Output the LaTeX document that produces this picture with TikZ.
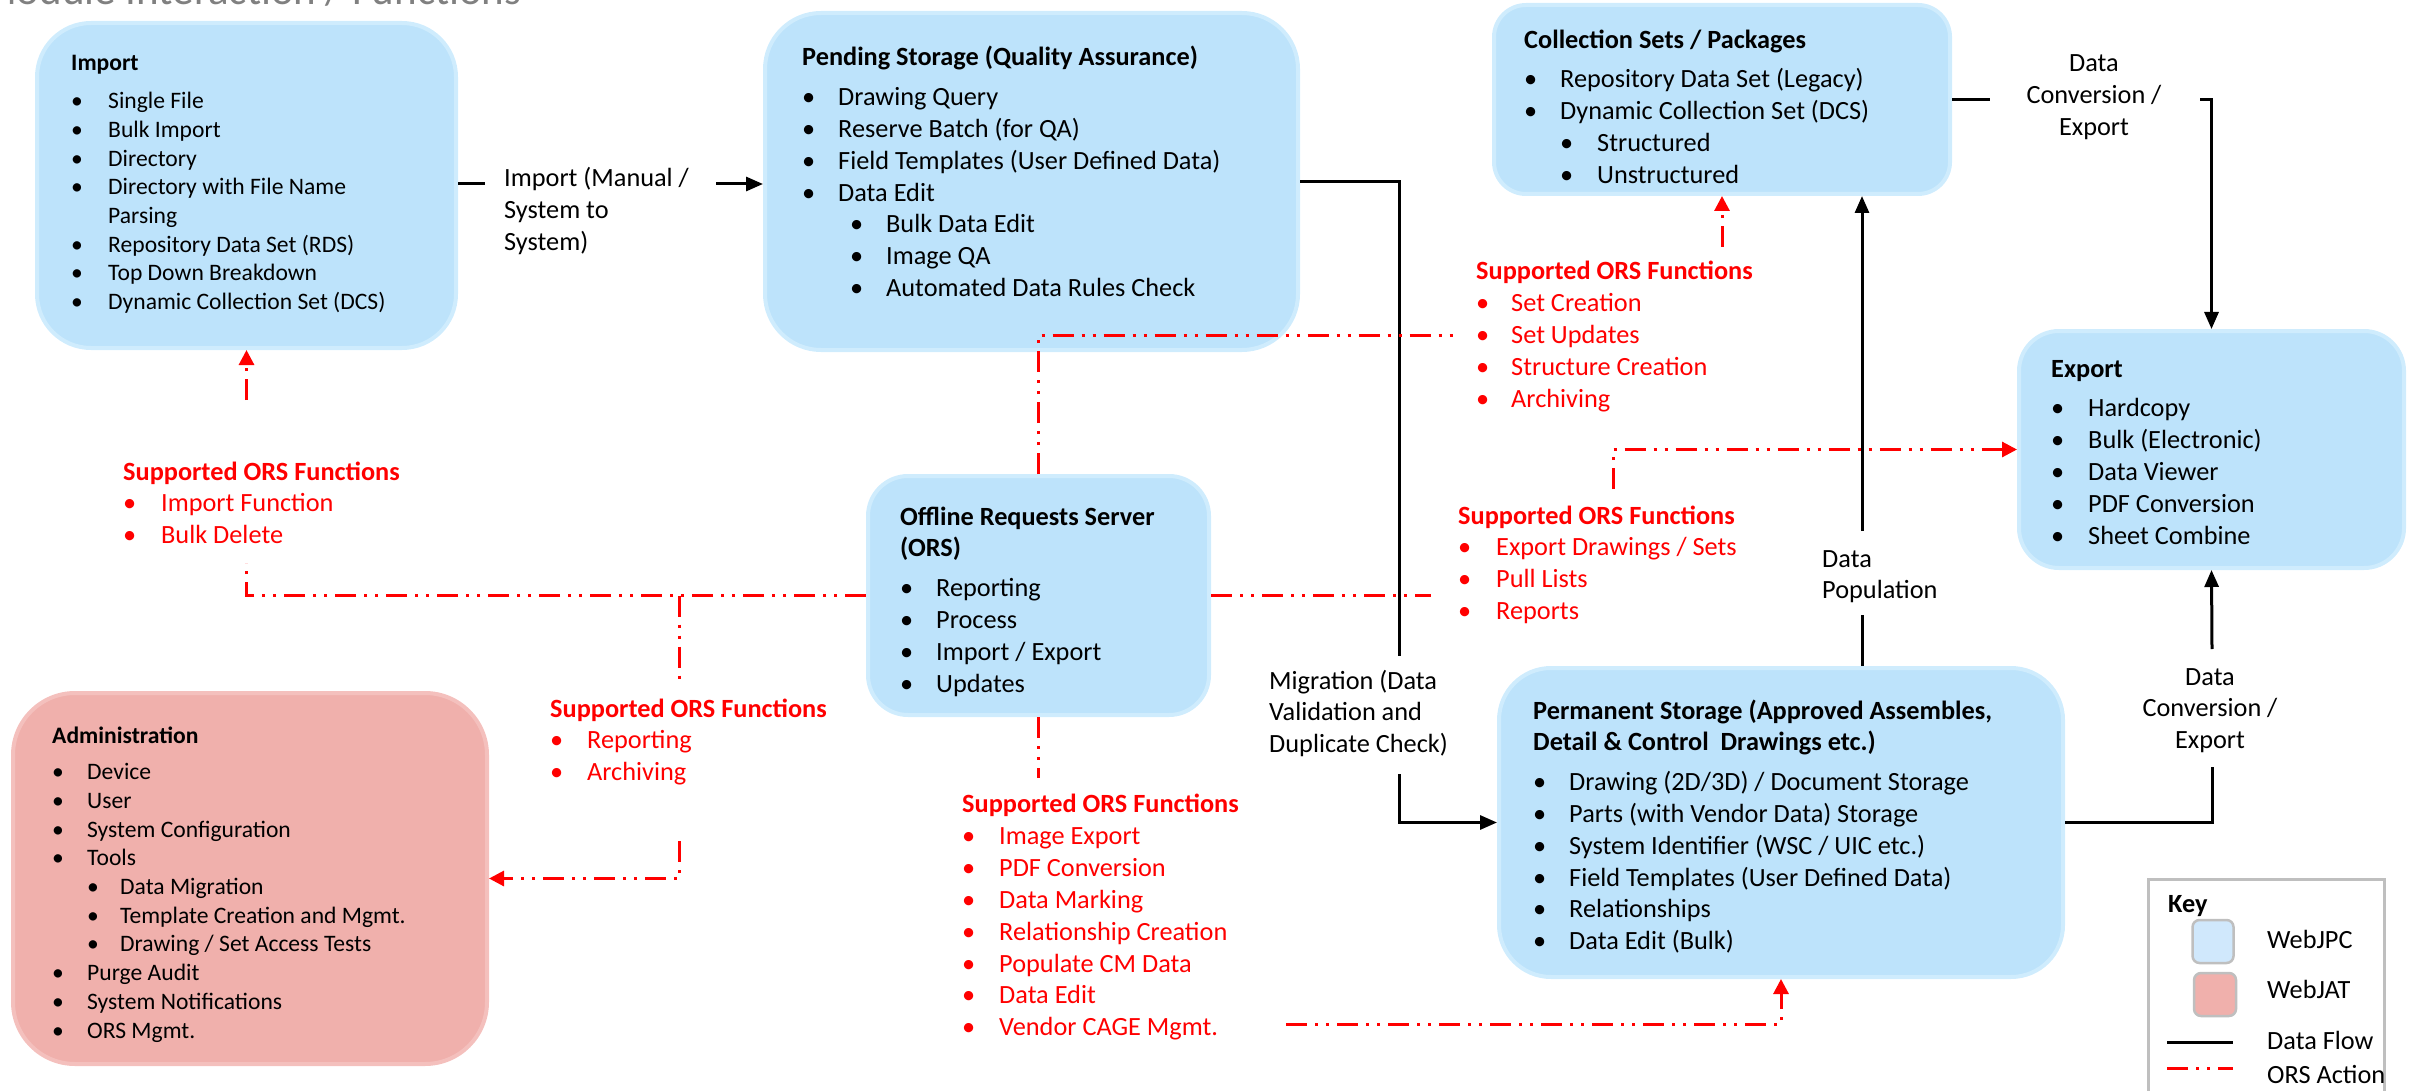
\documentclass[tikz,border=0pt]{standalone}
\usepackage{fontspec}
\setmainfont{Carlito}
\usetikzlibrary{arrows.meta}
\definecolor{boxblue}{RGB}{189,227,251}
\definecolor{boxrim}{RGB}{207,236,253}
\definecolor{boxpink}{RGB}{240,176,172}
\definecolor{pinkrim}{RGB}{244,192,189}
\definecolor{keyblue}{RGB}{208,232,252}
\definecolor{titlegray}{RGB}{128,128,128}
\definecolor{keygray}{RGB}{191,191,191}
\definecolor{orsred}{RGB}{255,0,0}
\newcommand{\fsS}{\fontsize{23.6}{28.7}\selectfont}
\newcommand{\fsB}{\fontsize{26.3}{31.8}\selectfont}
\newcommand{\bu}[1]{\makebox[#1][l]{\textbullet}}
\newcommand{\sbu}[2]{\hspace*{#1}\makebox[#2][l]{\textbullet}}
\begin{document}
\begin{tikzpicture}[x=1pt,y=-1pt,
  wbox/.style={rectangle, inner sep=0pt, fill=boxblue, draw=boxrim, line width=4pt},
  pbox/.style={rectangle, inner sep=0pt, fill=boxpink, draw=pinkrim, line width=4pt},
  txt/.style={anchor=base west, inner sep=0pt},
  redtxt/.style={txt, text=orsred, font=\fsB},
  flow/.style={line width=3pt, black},
  flowarr/.style={flow, -{Triangle[length=17pt,width=14pt]}},
  ors/.style={line width=3pt, orsred, dash pattern=on 21pt off 8pt on 3pt off 8pt on 3pt off 8pt},
  orsarr/.style={ors, -{Triangle[length=15pt,width=15pt]}},
]
\useasboundingbox (0,0) rectangle (2412,1091);

% title
\node[anchor=base west, inner sep=0pt, text=titlegray, font=\fontsize{43}{50}\selectfont] (title) at (-20,5) {Module Interaction / Functions};

% boxes
\node[wbox, minimum width=419pt, minimum height=325pt, rounded corners=54pt] (import) at (246.5,185.5) {};
\node[wbox, minimum width=533pt, minimum height=337pt, rounded corners=56pt] (pending) at (1031.5,181.5) {};
\node[wbox, minimum width=456pt, minimum height=189pt, rounded corners=32pt] (coll) at (1722,99.5) {};
\node[wbox, minimum width=385pt, minimum height=237pt, rounded corners=40pt] (export) at (2211.5,449.5) {};
\node[wbox, minimum width=341pt, minimum height=239pt, rounded corners=40pt] (ors) at (1038.5,595.5) {};
\node[wbox, minimum width=564pt, minimum height=309pt, rounded corners=52pt] (perm) at (1781,822.5) {};
\node[pbox, minimum width=474pt, minimum height=371pt, rounded corners=62pt] (admin) at (250,878.5) {};

% box texts
\node[txt, font=\fsS] (importtxt) at (71,71) {\begin{tabular}[t]{@{}l@{}}
\textbf{Import}\\[9pt]
\bu{37pt}Single File\\
\bu{37pt}Bulk Import\\
\bu{37pt}Directory\\
\bu{37pt}Directory with File Name\\
\hspace*{37pt}Parsing\\
\bu{37pt}Repository Data Set (RDS)\\
\bu{37pt}Top Down Breakdown\\
\bu{37pt}Dynamic Collection Set (DCS)
\end{tabular}};

\node[txt, font=\fsB] (pendingtxt) at (802,66) {\begin{tabular}[t]{@{}l@{}}
\textbf{Pending Storage (Quality Assurance)}\\[8pt]
\bu{36pt}Drawing Query\\
\bu{36pt}Reserve Batch (for QA)\\
\bu{36pt}Field Templates (User Defined Data)\\
\bu{36pt}Data Edit\\
\sbu{48pt}{36pt}Bulk Data Edit\\
\sbu{48pt}{36pt}Image QA\\
\sbu{48pt}{36pt}Automated Data Rules Check
\end{tabular}};

\node[txt, font=\fsB] (colltxt) at (1524,49) {\begin{tabular}[t]{@{}l@{}}
\textbf{Collection Sets / Packages}\\[7pt]
\bu{36pt}Repository Data Set (Legacy)\\
\bu{36pt}Dynamic Collection Set (DCS)\\
\sbu{36pt}{37pt}Structured\\
\sbu{36pt}{37pt}Unstructured
\end{tabular}};

\node[txt, font=\fsB] (exporttxt) at (2051,377) {\begin{tabular}[t]{@{}l@{}}
\textbf{Export}\\[8pt]
\bu{37pt}Hardcopy\\
\bu{37pt}Bulk (Electronic)\\
\bu{37pt}Data Viewer\\
\bu{37pt}PDF Conversion\\
\bu{37pt}Sheet Combine
\end{tabular}};

\node[txt, font=\fsB] (orstxt) at (900,525) {\begin{tabular}[t]{@{}l@{}}
\textbf{Offline Requests Server}\\
\textbf{(ORS)}\\[8pt]
\bu{36pt}Reporting\\
\bu{36pt}Process\\
\bu{36pt}Import / Export\\
\bu{36pt}Updates
\end{tabular}};

\node[txt, font=\fsB] (permtxt) at (1533,719) {\begin{tabular}[t]{@{}l@{}}
\textbf{Permanent Storage (Approved Assembles,}\\
\textbf{Detail \& Control\ \ Drawings etc.)}\\[8pt]
\bu{36pt}Drawing (2D/3D) / Document Storage\\
\bu{36pt}Parts (with Vendor Data) Storage\\
\bu{36pt}System Identifier (WSC / UIC etc.)\\
\bu{36pt}Field Templates (User Defined Data)\\
\bu{36pt}Relationships\\
\bu{36pt}Data Edit (Bulk)
\end{tabular}};

\node[txt, font=\fsS] (admintxt) at (52,743) {\begin{tabular}[t]{@{}l@{}}
\textbf{Administration}\\[8pt]
\bu{35pt}Device\\
\bu{35pt}User\\
\bu{35pt}System Configuration\\
\bu{35pt}Tools\\
\sbu{35pt}{33pt}Data Migration\\
\sbu{35pt}{33pt}Template Creation and Mgmt.\\
\sbu{35pt}{33pt}Drawing / Set Access Tests\\
\bu{35pt}Purge Audit\\
\bu{35pt}System Notifications\\
\bu{35pt}ORS Mgmt.
\end{tabular}};

% red function blocks
\node[redtxt] (redA) at (123,480) {\begin{tabular}[t]{@{}l@{}}
\textbf{Supported ORS Functions}\\
\bu{38pt}Import Function\\
\bu{38pt}Bulk Delete
\end{tabular}};
\node[redtxt] (redB) at (550,717) {\begin{tabular}[t]{@{}l@{}}
\textbf{Supported ORS Functions}\\
\bu{37pt}Reporting\\
\bu{37pt}Archiving
\end{tabular}};
\node[redtxt] (redC) at (962,812) {\begin{tabular}[t]{@{}l@{}}
\textbf{Supported ORS Functions}\\[1pt]
\bu{37pt}Image Export\\
\bu{37pt}PDF Conversion\\
\bu{37pt}Data Marking\\
\bu{37pt}Relationship Creation\\
\bu{37pt}Populate CM Data\\
\bu{37pt}Data Edit\\
\bu{37pt}Vendor CAGE Mgmt.
\end{tabular}};
\node[redtxt] (redD) at (1476,280) {\begin{tabular}[t]{@{}l@{}}
\textbf{Supported ORS Functions}\\
\bu{35pt}Set Creation\\
\bu{35pt}Set Updates\\
\bu{35pt}Structure Creation\\
\bu{35pt}Archiving
\end{tabular}};
\node[redtxt] (redE) at (1458,524) {\begin{tabular}[t]{@{}l@{}}
\textbf{Supported ORS Functions}\\
\bu{38pt}Export Drawings / Sets\\
\bu{38pt}Pull Lists\\
\bu{38pt}Reports
\end{tabular}};

% connector labels
\node[txt, font=\fsB] (lblimport) at (504,187) {\begin{tabular}[t]{@{}l@{}}Import (Manual /\\System to\\System)\end{tabular}};
\node[anchor=base, inner sep=0pt, font=\fsB] (lblconv1) at (2094,72) {\begin{tabular}[t]{@{}c@{}}Data\\Conversion /\\Export\end{tabular}};
\node[txt, font=\fsB] (lblmig) at (1269,689) {\begin{tabular}[t]{@{}l@{}}Migration (Data\\Validation and\\Duplicate Check)\end{tabular}};
\node[txt, font=\fsB] (lblpop) at (1822,567) {\begin{tabular}[t]{@{}l@{}}Data\\Population\end{tabular}};
\node[anchor=base, inner sep=0pt, font=\fsB] (lblconv2) at (2210,685) {\begin{tabular}[t]{@{}c@{}}Data\\Conversion /\\Export\end{tabular}};

% gap coordinates
\coordinate (g1a) at (485,184);
\coordinate (g1b) at (716,184);
\coordinate (g2a) at (1399,656);
\coordinate (g2b) at (1399,774);
\coordinate (g3a) at (1862,615);
\coordinate (g3b) at (1862,531);
\coordinate (g4a) at (2212,767);
\coordinate (g4b) at (2212,649);
\coordinate (g5a) at (1990,99.5);
\coordinate (g5b) at (2200,99.5);
\coordinate (rA1) at (246.5,563);
\coordinate (rA2) at (246.5,400);
\coordinate (jB) at (679,595.5);
\coordinate (rB1) at (679,679);
\coordinate (rB2) at (679,841);
\coordinate (rC1) at (1038.5,778);
\coordinate (rC2) at (1286,1024);
\coordinate (rD1) at (1457,335);
\coordinate (rD2) at (1722,247);
\coordinate (rE1) at (1431,595.5);
\coordinate (rE2) at (1613,489);

% data flow connectors
\draw[flow] (import.east |- g1a) -- (g1a);
\draw[flowarr] (g1b) -- (pending.west |- g1b);
\draw[flow] (pending.east) -| (g2a);
\draw[flowarr] (g2b) |- (perm.west);
\draw[flow] (perm.north -| g3a) -- (g3a);
\draw[flowarr] (g3b) -- (coll.south -| g3b);
\draw[flow] (perm.east) -| (g4a);
\draw[flowarr] (g4b) -- (export.south);
\draw[flow] (coll.east) -- (g5a);
\draw[flowarr] (g5b) -| (export.north);

% ORS action connectors
\draw[ors] (ors.west) -| (rA1);
\draw[orsarr] (rA2) -- (import.south);
\draw[ors] (jB) -- (rB1);
\draw[orsarr] (rB2) |- (admin.east);
\draw[ors] (ors.south) -- (rC1);
\draw[orsarr] (rC2) -| (perm.south);
\draw[ors] (ors.north) |- (rD1);
\draw[orsarr] (rD2) -- (coll.south -| rD2);
\draw[ors] (ors.east) -- (rE1);
\draw[orsarr] (rE2) |- (export.west);

% key
\node[draw=keygray, line width=3pt, anchor=north west, inner sep=0pt, minimum width=236pt, minimum height=240pt] (keybox) at (2147,878) {};
\node[txt, font=\fsB] (keytitle) at (2168,912) {\textbf{Key}};
\node[draw=keygray, line width=2.5pt, fill=keyblue, rounded corners=7pt, inner sep=0pt, minimum width=41pt, minimum height=43pt] (swjpc) at (2213,941.5) {};
\node[draw=keygray, line width=2.5pt, fill=boxpink, rounded corners=7pt, inner sep=0pt, minimum width=42pt, minimum height=43pt] (swjat) at (2215,994.5) {};
\node[txt, font=\fsB] (kjpc) at (2267,948) {WebJPC};
\node[txt, font=\fsB] (kjat) at (2267,998) {WebJAT};
\coordinate (kf1) at (2167,1042);
\coordinate (kf2) at (2233,1042);
\coordinate (ko1) at (2167,1068);
\coordinate (ko2) at (2233,1068);
\draw[flow] (kf1) -- (kf2);
\draw[ors] (ko1) -- (ko2);
\node[txt, font=\fsB] (kflow) at (2267,1049) {Data Flow};
\node[txt, font=\fsB] (kors) at (2267,1083) {ORS Action};
\end{tikzpicture}
\end{document}
